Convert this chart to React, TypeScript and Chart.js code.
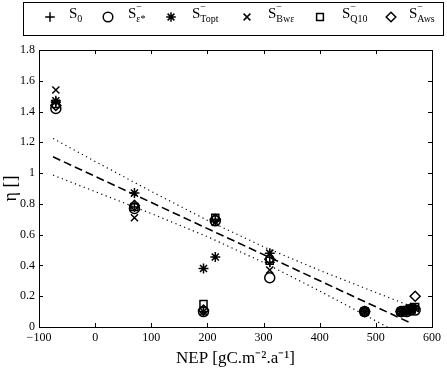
import React, { useEffect, useRef } from 'react';
import { Chart, registerables } from 'chart.js';

Chart.register(...registerables);

const FONT = '"Liberation Serif", "Times New Roman", Times, serif';

// NEP of each site
const sites = [-70, 70, 193, 214, 311, 480, 545, 555, 562, 570];
// eta for each sensitivity run
const S0 = [1.46, 0.78, 0.10, 0.70, 0.42, 0.10, 0.10, 0.10, 0.11, 0.12];
const SEps = [1.42, 0.77, 0.10, 0.69, 0.32, 0.10, 0.10, 0.10, 0.11, 0.11];
const STopt = [1.47, 0.87, 0.38, 0.455, 0.48, 0.10, 0.10, 0.11, 0.12, 0.12];
const SBwe = [1.54, 0.71, 0.10, 0.68, 0.37, 0.10, 0.10, 0.10, 0.11, 0.12];
const SQ10 = [1.45, 0.78, 0.15, 0.71, 0.43, 0.10, 0.10, 0.11, 0.12, 0.13];
const SAws = [1.44, 0.79, 0.11, 0.70, 0.44, 0.10, 0.10, 0.11, 0.12, 0.20];

// regression line and confidence band
const fitX = [-75, 562];
const fitY = [1.106, 0.026];
const bandX = [-75, 0, 100, 200, 300, 400, 500, 562];
const bandUpper = [1.225, 1.076, 0.881, 0.693, 0.521, 0.368, 0.224, 0.136];
const bandLower = [0.987, 0.88, 0.737, 0.587, 0.419, 0.234, 0.04, -0.084];

const xTicks = [-100, 0, 100, 200, 300, 400, 500, 600];
const yTicks = [0, 0.2, 0.4, 0.6, 0.8, 1, 1.2, 1.4, 1.6, 1.8];

const seriesSubs = ['0', 'ε*', 'Topt', 'Bwε', 'Q10', 'Aws'];
const seriesSup = [false, true, true, true, true, true];
const seriesStyles = ['cross', 'circle', 'star', 'crossRot', 'rect', 'rectRot'];
const seriesValues = [S0, SEps, STopt, SBwe, SQ10, SAws];

function drawMark(ctx: CanvasRenderingContext2D, style: string, x: number, y: number, r: number) {
  ctx.beginPath();
  const d = r * Math.SQRT1_2;
  if (style === 'cross' || style === 'star') {
    ctx.moveTo(x - r, y); ctx.lineTo(x + r, y);
    ctx.moveTo(x, y - r); ctx.lineTo(x, y + r);
  }
  if (style === 'crossRot' || style === 'star') {
    ctx.moveTo(x - d, y - d); ctx.lineTo(x + d, y + d);
    ctx.moveTo(x - d, y + d); ctx.lineTo(x + d, y - d);
  }
  if (style === 'circle') ctx.arc(x, y, r, 0, Math.PI * 2);
  if (style === 'rect') ctx.rect(x - d, y - d, 2 * d, 2 * d);
  if (style === 'rectRot') {
    ctx.moveTo(x, y - r); ctx.lineTo(x + r, y); ctx.lineTo(x, y + r); ctx.lineTo(x - r, y); ctx.closePath();
  }
  ctx.stroke();
}

const legendMarkX = [50, 108, 171, 247, 320, 391];
const legendTextX = [69, 128, 192, 268, 342, 409];

const framePlugin = {
  id: 'frame',
  afterDraw(chart: any) {
    const ctx: CanvasRenderingContext2D = chart.ctx;
    const { left, right, top, bottom } = chart.chartArea;
    const xs = chart.scales.x;
    const ys = chart.scales.y;
    ctx.save();
    ctx.strokeStyle = '#000';
    ctx.lineWidth = 1;
    ctx.strokeRect(Math.round(left) + 0.5, Math.round(top) + 0.5, Math.round(right - left), Math.round(bottom - top));
    ctx.beginPath();
    const tl = 4;
    xTicks.forEach((v) => {
      const p = Math.round(xs.getPixelForValue(v)) + 0.5;
      ctx.moveTo(p, bottom); ctx.lineTo(p, bottom - tl);
      ctx.moveTo(p, top); ctx.lineTo(p, top + tl);
    });
    yTicks.forEach((v) => {
      const p = Math.round(ys.getPixelForValue(v)) + 0.5;
      ctx.moveTo(left, p); ctx.lineTo(left + tl, p);
      ctx.moveTo(right, p); ctx.lineTo(right - tl, p);
    });
    ctx.stroke();

    // legend
    ctx.strokeRect(23.5, 2.5, 420, 33);
    ctx.lineWidth = 1.5;
    ctx.fillStyle = '#000';
    ctx.textBaseline = 'alphabetic';
    ctx.textAlign = 'left';
    for (let i = 0; i < seriesStyles.length; i++) {
      drawMark(ctx, seriesStyles[i], legendMarkX[i], 17, 4.8);
      const sx = legendTextX[i];
      ctx.font = `15px ${FONT}`;
      ctx.fillText('S', sx, 18);
      const w = ctx.measureText('S').width;
      ctx.font = `10px ${FONT}`;
      if (seriesSup[i]) ctx.fillText('\u2212', sx + w, 10);
      ctx.fillText(seriesSubs[i], sx + w, 22);
    }
    ctx.restore();
  },
};

export default function App() {
  const ref = useRef<HTMLCanvasElement | null>(null);
  useEffect(() => {
    if (!ref.current) return;
    const markerSets = seriesValues.map((vals, i) => ({
      label: 'S' + seriesSubs[i],
      data: sites.map((x, j) => ({ x, y: vals[j] })),
      showLine: false,
      pointStyle: seriesStyles[i] as any,
      pointRadius: 5,
      pointBorderWidth: 1.5,
      pointBorderColor: '#000',
      pointBackgroundColor: 'rgba(0,0,0,0)',
      borderColor: '#000',
      backgroundColor: 'rgba(0,0,0,0)',
      clip: 6,
    }));
    const lineSet = (xsArr: number[], ysArr: number[], dash: number[], width: number) => ({
      label: '',
      data: xsArr.map((x, j) => ({ x, y: ysArr[j] })),
      showLine: true,
      pointRadius: 0,
      borderColor: '#000',
      borderWidth: width,
      borderDash: dash,
      tension: 0,
      clip: 0,
    });
    const chart = new Chart(ref.current, {
      type: 'scatter',
      data: {
        datasets: [
          ...markerSets,
          lineSet(fitX, fitY, [8, 4], 1.6),
          lineSet(bandX, bandUpper, [1.2, 3.5], 1.2),
          lineSet(bandX, bandLower, [1.2, 3.5], 1.2),
        ] as any,
      },
      options: {
        animation: false,
        responsive: true,
        maintainAspectRatio: false,
        layout: { padding: { top: 50, right: 15, left: 0, bottom: 0 } },
        plugins: { legend: { display: false }, tooltip: { enabled: false } },
        scales: {
          x: {
            type: 'linear',
            min: -100,
            max: 600,
            afterBuildTicks: (s: any) => { s.ticks = xTicks.map((v) => ({ value: v })); },
            afterFit: (s: any) => { s.height = 42; },
            grid: { display: false, drawTicks: false },
            border: { display: false },
            ticks: {
              color: '#000',
              padding: 4,
              font: { family: FONT, size: 12 },
              callback: (v: any) => String(v).replace('-', '\u2212'),
            },
            title: {
              display: true,
              text: 'NEP [gC.m\u207B\u00B2.a\u207B\u00B9]',
              color: '#000',
              font: { family: FONT, size: 17 },
              padding: { top: 0, bottom: 0 },
            },
          },
          y: {
            type: 'linear',
            min: 0,
            max: 1.8,
            afterBuildTicks: (s: any) => { s.ticks = yTicks.map((v) => ({ value: v })); },
            afterFit: (s: any) => { s.width = 39; },
            grid: { display: false, drawTicks: false },
            border: { display: false },
            ticks: {
              color: '#000',
              padding: 4,
              font: { family: FONT, size: 12 },
              callback: (v: any) => String(Math.round(Number(v) * 10) / 10),
            },
            title: {
              display: true,
              text: '\u03B7 []',
              color: '#000',
              font: { family: FONT, size: 18 },
              padding: { top: 0, bottom: 0 },
            },
          },
        },
      },
      plugins: [framePlugin],
    });
    return () => chart.destroy();
  }, []);
  return (
    <div style={{ position: 'absolute', left: 0, top: 0, width: 447, height: 369, background: '#fff' }}>
      <canvas ref={ref} />
    </div>
  );
}
